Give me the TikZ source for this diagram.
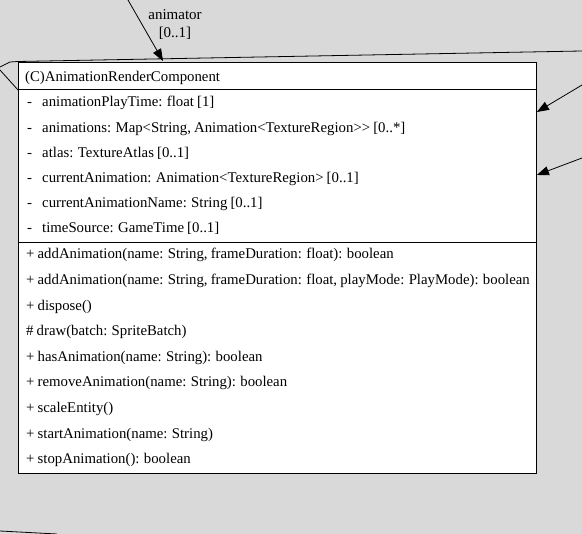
\documentclass[tikz,border=0pt]{standalone}
\usepackage{fontspec}
\setmainfont{Liberation Serif}
\usetikzlibrary{arrows.meta}
\definecolor{bggray}{gray}{0.85}
\newcommand{\memberfont}{\fontsize{14.8}{15}\selectfont\spaceskip=0.21em\relax}
\tikzset{classbox/.style={rectangle, fill=white, draw=black, line width=0.9pt,
inner sep=0pt, anchor=north west},
member/.style={anchor=base west, inner sep=0pt, font=\memberfont},
vis/.style={member},
rolelabel/.style={align=center, inner sep=0pt, font=\fontsize{15}{18}\selectfont},
assoc/.style={line width=0.8pt},
>={Triangle[length=12pt,width=9pt]}}

\begin{document}
\begin{tikzpicture}[x=1pt,y=-1pt]
    \useasboundingbox (0,0) rectangle (582,534);
    \fill [bggray] (0,0) rectangle (582,534);

    % lines of the diagram that leave the frame
    \coordinate (outleft1) at (0,67);
    \coordinate (outleft2) at (0,70);
    \coordinate (outright) at (582,51);
    \coordinate (outbottom1) at (0,531);
    \coordinate (outbottom2) at (57,534);
    \draw [assoc] (outleft1) -- (10,62) -- (18,61.5) -- (outright);
    \draw [assoc] (outleft2) -- (18,90);
    \draw [assoc] (outbottom1) -- (outbottom2);

    % class box
    \node (cls) [classbox, minimum width=518pt, minimum height=411pt] at (18,62) {};
    \coordinate (sep1) at (0,89);
    \coordinate (sep2) at (0,242);
    \draw [line width=0.9pt] (cls.west |- sep1) -- (cls.east |- sep1);
    \draw [line width=0.9pt] (cls.west |- sep2) -- (cls.east |- sep2);

    \node (title) [member] at (25,82) {(C)AnimationRenderComponent};

    % attributes
    \node (v1) [vis] at (27,107) {-};
    \node (a1) [member] at (42,107) {animationPlayTime: float [1]};
    \node (v2) [vis] at (27,132.2) {-};
    \node (a2) [member] at (42,132.2) {animations: Map<String, Animation<TextureRegion>{}> [0..*]};
    \node (v3) [vis] at (27,157.4) {-};
    \node (a3) [member] at (42,157.4) {atlas: TextureAtlas [0..1]};
    \node (v4) [vis] at (27,182.6) {-};
    \node (a4) [member] at (42,182.6) {currentAnimation: Animation<TextureRegion> [0..1]};
    \node (v5) [vis] at (27,207.8) {-};
    \node (a5) [member] at (42,207.8) {currentAnimationName: String [0..1]};
    \node (v6) [vis] at (27,233) {-};
    \node (a6) [member] at (42,233) {timeSource: GameTime [0..1]};

    % operations
    \node (m1) [member] at (26,259) {+ addAnimation(name: String, frameDuration: float): boolean};
    \node (m2) [member] at (26,284.6) {+ addAnimation(name: String, frameDuration: float, playMode: PlayMode): boolean};
    \node (m3) [member] at (26,310.2) {+ dispose()};
    \node (m4) [member] at (26,335.8) {\# draw(batch: SpriteBatch)};
    \node (m5) [member] at (26,361.4) {+ hasAnimation(name: String): boolean};
    \node (m6) [member] at (26,387) {+ removeAnimation(name: String): boolean};
    \node (m7) [member] at (26,412.6) {+ scaleEntity()};
    \node (m8) [member] at (26,438.2) {+ startAnimation(name: String)};
    \node (m9) [member] at (26,463.8) {+ stopAnimation(): boolean};

    % associations
    \coordinate (srcanim) at (128,0);
    \coordinate (tgtanim) at (163,61);
    \coordinate (src2) at (582,85);
    \coordinate (tgt2) at (cls.east |- 0,112);
    \coordinate (src3) at (582,158);
    \coordinate (tgt3) at (cls.east |- 0,175);

    \node (animlabel) [rolelabel] at (175,25) {animator\\{[0..1]}};

    \draw [assoc, ->] (srcanim) -- (tgtanim);
    \draw [assoc, ->] (src2) -- (tgt2);
    \draw [assoc, ->] (src3) -- (tgt3);

  \end{tikzpicture}
\end{document}
